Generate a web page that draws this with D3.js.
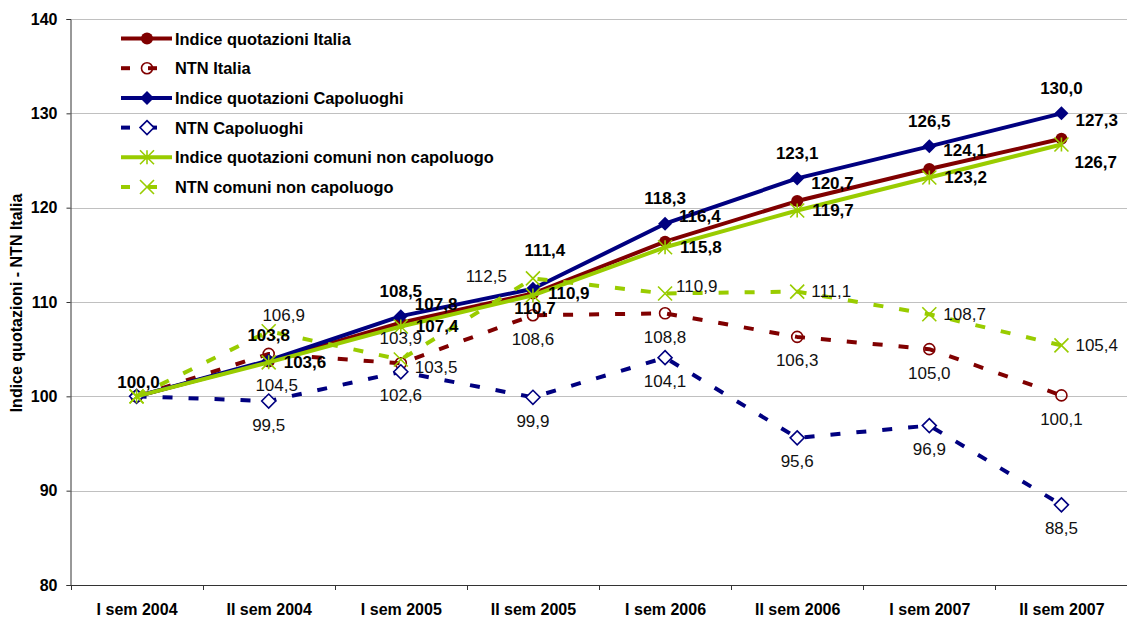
<!DOCTYPE html>
<html>
<head>
<meta charset="utf-8">
<script src="https://cdn.jsdelivr.net/npm/d3@7/dist/d3.min.js"></script>
<style>
  html, body { margin: 0; padding: 0; background: #fff; }
  svg { display: block; font-family: Arial, "Liberation Sans", sans-serif; }
</style>
</head>
<body>
<svg id="chart" width="1127" height="617"></svg>
<script>
// ---------------- DATA ----------------
const categories = ["I sem 2004", "II sem 2004", "I sem 2005", "II sem 2005",
                    "I sem 2006", "II sem 2006", "I sem 2007", "II sem 2007"];
const indiceItalia      = [100.0, 103.7, 107.8, 110.9, 116.4, 120.7, 124.1, 127.3];
const ntnItalia         = [100.0, 104.5, 103.5, 108.6, 108.8, 106.3, 105.0, 100.1];
const indiceCapoluoghi  = [100.0, 103.8, 108.5, 111.4, 118.3, 123.1, 126.5, 130.0];
const ntnCapoluoghi     = [100.0,  99.5, 102.6,  99.9, 104.1,  95.6,  96.9,  88.5];
const indiceComuni      = [100.0, 103.6, 107.4, 110.7, 115.8, 119.7, 123.2, 126.7];
const ntnComuni         = [100.0, 106.9, 103.9, 112.5, 110.9, 111.1, 108.7, 105.4];
const yTicks = [80, 90, 100, 110, 120, 130, 140];
const yTitle = "Indice quotazioni - NTN Italia";

// ---------------- SERIES STYLE ----------------
const series = [
  { name: "Indice quotazioni Italia", values: indiceItalia, color: "#800000", dashed: false, marker: "dot", bold: true },
  { name: "NTN Italia", values: ntnItalia, color: "#800000", dashed: true, marker: "circle", bold: false },
  { name: "Indice quotazioni Capoluoghi", values: indiceCapoluoghi, color: "#000080", dashed: false, marker: "diamondFill", bold: true },
  { name: "NTN Capoluoghi", values: ntnCapoluoghi, color: "#000080", dashed: true, marker: "diamond", bold: false },
  { name: "Indice quotazioni comuni non capoluogo", values: indiceComuni, color: "#99CC00", dashed: false, marker: "star", bold: true },
  { name: "NTN comuni non capoluogo", values: ntnComuni, color: "#99CC00", dashed: true, marker: "x", bold: false }
];

// label layout: default [anchor, dx, dy], overrides per index, hidden indices
const labelLayout = [
  { def: ["start", 14, -18], over: { 3: ["start", 15, 0], 4: ["start", 14, -25] }, hide: [0, 1] },
  { def: ["middle", 0, 24], over: { 1: ["middle", 8, 32], 2: ["start", 14, 4] }, hide: [0] },
  { def: ["middle", 0, -25], over: { 0: ["middle", 2, -14], 3: ["middle", 12, -38] }, hide: [] },
  { def: ["middle", 0, 24], over: {}, hide: [0] },
  { def: ["start", 15, 0], over: { 3: ["middle", 2, 13], 7: ["start", 13, 18] }, hide: [0] },
  { def: ["start", 14, 0], over: { 1: ["middle", 15, -16], 2: ["middle", 0, -21], 3: ["end", -26, -2], 4: ["start", 11, -7] }, hide: [0] }
];

// ---------------- LAYOUT ----------------
const svg = d3.select("#chart");
const plot = { left: 70.5, right: 1127.5, top: 19, bottom: 585 };

const x = d3.scalePoint().domain(categories).range([plot.left, plot.right]).padding(0.5);
const y = d3.scaleLinear().domain([80, 140]).range([plot.bottom, plot.top]);
const fmt = v => d3.format(".1f")(v).replace(".", ",");

// gridlines
svg.append("g").selectAll("line").data(yTicks.filter(t => t > 80)).join("line")
  .attr("x1", plot.left).attr("x2", plot.right)
  .attr("y1", d => Math.round(y(d)) + 0.5).attr("y2", d => Math.round(y(d)) + 0.5)
  .attr("stroke", "#c0c0c0").attr("stroke-width", 1);

// y axis
const yAxis = d3.axisLeft(y).tickValues(yTicks).tickSize(4).tickFormat(d3.format("d"));
const gy = svg.append("g").attr("transform", `translate(${plot.left},0)`).call(yAxis);
gy.select(".domain").attr("stroke", "#333");
gy.selectAll(".tick line").attr("stroke", "#333");
gy.selectAll(".tick text").attr("x", -13).attr("font-size", "16px").attr("font-weight", "bold")
  .attr("fill", "#000").attr("font-family", "Arial, 'Liberation Sans', sans-serif");

// x axis with ticks at category boundaries
const xAxis = d3.axisBottom(x).tickSize(0).tickPadding(0);
const gx = svg.append("g").attr("transform", `translate(0,${plot.bottom})`).call(xAxis);
gx.select(".domain").attr("stroke", "#333");
gx.selectAll(".tick text").attr("y", 30).attr("dy", 0).attr("font-size", "16px").attr("font-weight", "bold")
  .attr("fill", "#000").attr("font-family", "Arial, 'Liberation Sans', sans-serif");
const step = x.step();
gx.append("g").selectAll("line").data(d3.range(categories.length + 1)).join("line")
  .attr("x1", i => Math.round(plot.left + i * step) + 0.5).attr("x2", i => Math.round(plot.left + i * step) + 0.5)
  .attr("y1", 0).attr("y2", 5).attr("stroke", "#333");

// y title
svg.append("text")
  .attr("transform", `translate(22,303) rotate(-90)`)
  .attr("text-anchor", "middle")
  .attr("font-size", "16px").attr("font-weight", "bold").attr("fill", "#000")
  .text(yTitle);

// ---------------- MARKERS ----------------
function drawMarker(g, type, color, cx, cy) {
  const s = 7;
  if (type === "dot") {
    g.append("circle").attr("cx", cx).attr("cy", cy).attr("r", 6).attr("fill", color);
  } else if (type === "circle") {
    g.append("circle").attr("cx", cx).attr("cy", cy).attr("r", 5.5).attr("fill", "none")
      .attr("stroke", color).attr("stroke-width", 1.6);
  } else if (type === "diamondFill" || type === "diamond") {
    const p = `M${cx},${cy - s}L${cx + s},${cy}L${cx},${cy + s}L${cx - s},${cy}Z`;
    const el = g.append("path").attr("d", p);
    if (type === "diamondFill") el.attr("fill", color);
    else el.attr("fill", "#fff").attr("stroke", color).attr("stroke-width", 1.6);
  } else if (type === "star") {
    g.append("path").attr("d",
      `M${cx - s},${cy - s}L${cx + s},${cy + s}M${cx - s},${cy + s}L${cx + s},${cy - s}M${cx},${cy - s}L${cx},${cy + s}`)
      .attr("stroke", color).attr("stroke-width", 1.6).attr("fill", "none");
  } else if (type === "x") {
    g.append("path").attr("d",
      `M${cx - s},${cy - s}L${cx + s},${cy + s}M${cx - s},${cy + s}L${cx + s},${cy - s}`)
      .attr("stroke", color).attr("stroke-width", 1.6).attr("fill", "none");
  }
}

// ---------------- LINES ----------------
const line = d3.line().x((d, i) => x(categories[i])).y(d => y(d));
const gLines = svg.append("g");
series.forEach(s => {
  const g = gLines.append("g");
  g.append("path").attr("d", line(s.values))
    .attr("fill", "none").attr("stroke", s.color).attr("stroke-width", 4)
    .attr("stroke-dasharray", s.dashed ? "10,16" : null)
    .attr("stroke-linejoin", "round");
  s.values.forEach((v, i) => drawMarker(g, s.marker, s.color, x(categories[i]), y(v)));
});

// ---------------- LABELS ----------------
const gLabels = svg.append("g");
series.forEach((s, si) => {
  const L = labelLayout[si];
  s.values.forEach((v, i) => {
    if (L.hide.includes(i)) return;
    const [anchor, dx, dy] = L.over[i] || L.def;
    gLabels.append("text")
      .attr("x", x(categories[i]) + dx).attr("y", y(v) + dy)
      .attr("text-anchor", anchor).attr("dominant-baseline", "central")
      .attr("font-size", "17px").attr("font-weight", s.bold ? "bold" : "normal")
      .attr("fill", s.bold ? "#000" : "#111")
      .text(fmt(v));
  });
});

// ---------------- LEGEND ----------------
const legend = svg.append("g");
series.forEach((s, i) => {
  const ly = 38.5 + i * 29.7;
  const g = legend.append("g");
  if (s.dashed) {
    g.append("line").attr("x1", 121).attr("x2", 130).attr("y1", ly).attr("y2", ly)
      .attr("stroke", s.color).attr("stroke-width", 4);
    g.append("line").attr("x1", 148).attr("x2", 157).attr("y1", ly).attr("y2", ly)
      .attr("stroke", s.color).attr("stroke-width", 4);
  } else {
    g.append("line").attr("x1", 121).attr("x2", 172).attr("y1", ly).attr("y2", ly)
      .attr("stroke", s.color).attr("stroke-width", 4);
  }
  drawMarker(g, s.marker, s.color, 147, ly);
  g.append("text").attr("x", 175).attr("y", ly).attr("dominant-baseline", "central")
    .attr("font-size", "16.4px").attr("font-weight", "bold").attr("fill", "#000")
    .text(s.name);
});
</script>
</body>
</html>
